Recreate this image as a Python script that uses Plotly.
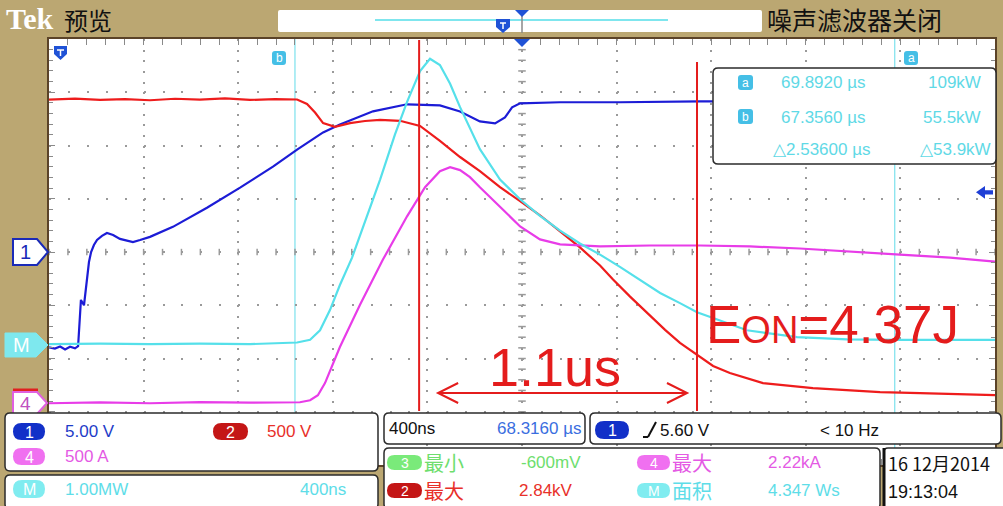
import plotly.graph_objects as go

W, H = 1003, 506

# ---------------- data ----------------
# Channel 1 : gate voltage  (V)
ch1_t = [66.316, 66.341, 66.363, 66.384, 66.405, 66.426, 66.439, 66.443, 66.451, 66.464,
         66.477, 66.485, 66.494, 66.506, 66.519, 66.540, 66.561, 66.587, 66.616, 66.646,
         66.671, 66.701, 66.743, 66.840, 66.984, 67.124, 67.263, 67.365, 67.475, 67.546,
         67.686, 67.830, 67.969, 68.054, 68.138, 68.202, 68.244, 68.274, 68.308, 68.477,
         68.730, 69.069, 69.491, 69.914, 70.316]
ch1_v = [-8.96, -9.06, -8.87, -9.15, -8.90, -9.05, -8.85, -7.40, -4.50, -5.00,
         -2.36, -0.94, 0.00, 0.66, 1.13, 1.51, 1.79, 1.60, 1.23, 1.04,
         0.94, 1.13, 1.42, 2.36, 4.15, 6.04, 8.02, 9.62, 11.23, 11.98,
         13.21, 13.87, 13.77, 13.20, 12.26, 12.08, 12.64, 13.58, 13.96, 14.06,
         14.06, 14.15, 14.15, 14.15, 14.15]

# Channel 2 : collector-emitter voltage (V)
ch2_t = [66.316, 66.426, 66.532, 66.637, 66.743, 66.849, 66.954, 67.060, 67.166, 67.272,
         67.365, 67.407, 67.441, 67.475, 67.525, 67.589, 67.652, 67.716, 67.800, 67.885,
         67.969, 68.054, 68.138, 68.223, 68.308, 68.392, 68.477, 68.561, 68.646, 68.701,
         68.773, 68.845, 68.921, 68.984, 69.056, 69.124, 69.195, 69.335, 69.546, 69.703,
         69.830, 69.999, 70.126, 70.316]
ch2_v = [2840, 2851, 2838, 2846, 2835, 2849, 2840, 2852, 2838, 2845,
         2842, 2800, 2720, 2620, 2585, 2620, 2640, 2650, 2642, 2594,
         2453, 2302, 2170, 2019, 1887, 1755, 1604, 1453, 1283, 1151,
         991, 840, 679, 557, 443, 340, 274, 179, 132, 110,
         94, 85, 80, 66]

# Channel 4 : collector current (A)
ch4_t = [66.316, 66.532, 66.743, 66.954, 67.166, 67.377, 67.420, 67.453, 67.483, 67.546,
         67.631, 67.728, 67.830, 67.906, 67.969, 68.012, 68.054, 68.096, 68.138, 68.223,
         68.308, 68.392, 68.477, 68.646, 68.857, 69.069, 69.280, 69.491, 69.745, 69.914,
         70.126, 70.316]
ch4_a = [0, 8, 0, 10, 5, 9, 28, 75, 189, 528,
         925, 1349, 1755, 2028, 2179, 2217, 2189, 2123, 2028, 1840,
         1660, 1538, 1491, 1472, 1481, 1481, 1472, 1453, 1415, 1396,
         1368, 1330]

# Math M : instantaneous power (MW)
math_t = [66.316, 66.532, 66.743, 66.954, 67.166, 67.365, 67.420, 67.462, 67.504, 67.546,
          67.597, 67.652, 67.716, 67.779, 67.830, 67.885, 67.927, 67.969, 68.012, 68.054,
          68.096, 68.138, 68.223, 68.308, 68.392, 68.477, 68.561, 68.646, 68.730, 68.815,
          68.900, 68.984, 69.056, 69.124, 69.267, 69.479, 69.690, 69.914, 70.126, 70.316]
math_mw = [0.02, 0.03, 0.02, 0.03, 0.02, 0.05, 0.10, 0.28, 0.66, 1.13,
           1.64, 2.32, 3.11, 3.96, 4.57, 5.15, 5.38, 5.26, 4.91, 4.47,
           4.06, 3.68, 3.11, 2.74, 2.43, 2.15, 1.91, 1.70, 1.47, 1.23,
           0.98, 0.79, 0.62, 0.51, 0.28, 0.15, 0.11, 0.10, 0.10, 0.10]

# scope settings
time_center_us = 68.316
time_per_div_us = 0.4
ch1_per_div, ch1_pos_div = 5.0, 0.0
ch2_per_div, ch2_pos_div = 500.0, -2.82
ch4_per_div, ch4_pos_div = 500.0, -2.84
math_per_div, math_pos_div = 1.0, -1.75
cursor_b_us, cursor_a_us = 67.356, 69.892
trigger_level_v = 5.60
marker_lines_us = [67.881, 69.056]

cursor_rows = [("a", "69.8920 µs", "109kW"), ("b", "67.3560 µs", "55.5kW"), ("", "△2.53600 µs", "△53.9kW")]

# ---------------- helpers ----------------
def px(x):
    return x / W

def py(y):
    return 1 - y / H

def pt(x, y):
    return f"{x / W:.5f},{1 - y / H:.5f}"

def rrect(x0, y0, x1, y1, r):
    return (f"M{pt(x0 + r, y0)} L{pt(x1 - r, y0)} Q{pt(x1, y0)} {pt(x1, y0 + r)} "
            f"L{pt(x1, y1 - r)} Q{pt(x1, y1)} {pt(x1 - r, y1)} L{pt(x0 + r, y1)} "
            f"Q{pt(x0, y1)} {pt(x0, y1 - r)} L{pt(x0, y0 + r)} Q{pt(x0, y0)} {pt(x0 + r, y0)} Z")

def poly(points):
    return "M" + " L".join(pt(x, y) for x, y in points) + " Z"

shapes = []
annotations = []

SANS = "Liberation Sans, Arial, sans-serif"
CJK = "Noto Sans CJK SC, sans-serif"

def add_path(path, fill="rgba(0,0,0,0)", line="rgba(0,0,0,0)", lw=0, layer="above"):
    shapes.append(dict(type="path", xref="paper", yref="paper", path=path,
                       fillcolor=fill, line=dict(color=line, width=lw), layer=layer))

def add_line(x0, y0, x1, y1, color, lw, layer="above"):
    shapes.append(dict(type="line", xref="paper", yref="paper", x0=px(x0), y0=py(y0),
                       x1=px(x1), y1=py(y1), line=dict(color=color, width=lw), layer=layer))

def add_text(x, y, s, color, size, anchor="left", family=SANS, yanchor="middle"):
    annotations.append(dict(x=px(x), y=py(y), xref="paper", yref="paper", text=s,
                            showarrow=False, xanchor=anchor, yanchor=yanchor,
                            font=dict(color=color, size=size, family=family), borderpad=0))

def pill(x0, y0, x1, y1, fill, label, tcolor="white", size=16):
    r = (y1 - y0) / 2
    add_path(rrect(x0, y0, x1, y1, r), fill=fill)
    add_text((x0 + x1) / 2, (y0 + y1) / 2 + 0.5, label, tcolor, size, anchor="center")

TAN = "#bba772"
BORDER = "#2b2b2b"

# ---------------- axes ranges ----------------
x0 = time_center_us - 5 * time_per_div_us
x1 = time_center_us + 5 * time_per_div_us

def yr(per_div, pos):
    return [(-4 - pos) * per_div, (4 - pos) * per_div]

XD = [49 / W, 995 / W]
YD = [1 - 465 / H, 1 - 39 / H]

fig = go.Figure()

fig.add_trace(go.Scatter(x=ch4_t, y=ch4_a, yaxis="y3", mode="lines",
                         line=dict(color="#e83ce8", width=2.2), hoverinfo="skip"))
fig.add_trace(go.Scatter(x=ch2_t, y=ch2_v, yaxis="y2", mode="lines",
                         line=dict(color="#ee1c1c", width=2.2), hoverinfo="skip"))
fig.add_trace(go.Scatter(x=math_t, y=math_mw, yaxis="y4", mode="lines",
                         line=dict(color="#55e0ea", width=2.2), hoverinfo="skip"))
fig.add_trace(go.Scatter(x=ch1_t, y=ch1_v, yaxis="y", mode="lines",
                         line=dict(color="#1c1cd6", width=2.2), hoverinfo="skip"))

# ---------------- graticule centre cross ticks ----------------
GRAY = "#9a9a9a"
step_t = time_per_div_us / 5
for k in range(51):
    t = x0 + k * step_t
    shapes.append(dict(type="line", xref="x", yref="y", x0=t, x1=t, y0=-0.3, y1=0.3,
                       line=dict(color=GRAY, width=1.5), layer="between"))
for k in range(-20, 21):
    v = k * ch1_per_div / 5
    shapes.append(dict(type="line", xref="x", yref="y", x0=time_center_us - 0.016,
                       x1=time_center_us + 0.016, y0=v, y1=v,
                       line=dict(color=GRAY, width=1.5), layer="between"))

# cursors
for c in (cursor_b_us, cursor_a_us):
    shapes.append(dict(type="line", xref="x", yref="paper", x0=c, x1=c, y0=YD[0], y1=YD[1],
                       line=dict(color="#86e4ee", width=1.3), layer="between"))

# ---------------- top bar ----------------
add_text(5, 18, "<b>Tek</b>", "white", 30, family="Liberation Serif, serif")
add_text(63, 19, "预览", "#111111", 24, family=CJK)
add_path(rrect(278, 10, 762, 32, 2), fill="white")
add_line(375, 20, 668, 20, "#7fe6ee", 2)
add_path(poly([(496, 19), (510, 19), (510, 27), (503, 33), (496, 27)]), fill="#1f52d6")
add_line(500, 23, 506, 23, "white", 1.5)
add_line(503, 23, 503, 29, "white", 1.5)
add_line(522, 12, 522, 33, "#888888", 1.5)
add_path(poly([(515, 10), (529, 10), (522, 17)]), fill="#1f52d6")
add_text(766, 19, "噪声滤波器关闭", "#111111", 25, family=CJK)

# trigger position marker inside graticule
add_path(poly([(514, 39), (530, 39), (522, 47)]), fill="#1f52d6")
# trigger level arrow on the right (ch1 level)
shapes.append(dict(type="path", xref="paper", yref="y",
                   path=f"M{px(976):.5f},{trigger_level_v} L{px(985):.5f},{trigger_level_v + 0.6} "
                        f"L{px(985):.5f},{trigger_level_v + 0.2} L{px(993):.5f},{trigger_level_v + 0.2} "
                        f"L{px(993):.5f},{trigger_level_v - 0.2} L{px(985):.5f},{trigger_level_v - 0.2} "
                        f"L{px(985):.5f},{trigger_level_v - 0.6} Z",
                   fillcolor="#1f3fd6", line=dict(width=0), layer="above"))

# small icons at graticule top
add_path(poly([(54, 46), (67, 46), (67, 54), (60.5, 60), (54, 54)]), fill="#1f52d6")
add_line(57, 50, 64, 50, "white", 1.5)
add_line(60.5, 50, 60.5, 56, "white", 1.5)
for (cx, lab) in ((279, "b"), (911, "a")):
    add_path(rrect(cx - 7, 51, cx + 7, 65, 3), fill="#45bfe6")
    add_text(cx, 58, lab, "white", 12, anchor="center")

# ---------------- left channel markers ----------------
add_path(poly([(13, 239), (37, 239), (48, 252), (37, 265), (13, 265)]), fill="white",
         line="#1a2ab8", lw=2)
add_text(25, 252, "1", "#1a2ab8", 20, anchor="center")
add_path(poly([(5, 333), (36, 333), (48, 345), (36, 357), (5, 357)]), fill="#7ee8ee",
         line="#7ee8ee", lw=1)
add_text(21, 345, "M", "white", 20, anchor="center")
add_line(13, 390, 38, 390, "#e02020", 3)
add_path(poly([(13, 392), (37, 392), (47, 403), (37, 414), (13, 414)]), fill="white",
         line="#e060e0", lw=2)
add_text(25, 403, "4", "#c050c0", 19, anchor="center")

# ---------------- cursor readout box ----------------
add_path(rrect(713, 68, 996, 164, 5), fill="white", line=BORDER, lw=1.5)
CYAN_T = "#5fd9e6"
for i, (lab, tval, pval) in enumerate(cursor_rows):
    yy = [83, 117, 149][i]
    if lab:
        add_path(rrect(738, yy - 8, 753, yy + 7, 3), fill="#45bfe6")
        add_text(745.5, yy, lab, "white", 12, anchor="center")
    add_text(780 if lab else 772, yy, tval, CYAN_T, 17)
    add_text(982 if lab else 992, yy, pval, CYAN_T, 17, anchor="right")

# ---------------- bottom readout panels ----------------
add_path(rrect(5, 413, 378, 471, 5), fill="white", line=BORDER, lw=1.5)
add_path(rrect(5, 475, 378, 509, 5), fill="white", line=BORDER, lw=1.5)
add_path(rrect(384, 413, 585, 444, 5), fill="white", line=BORDER, lw=1.5)
add_path(rrect(590, 413, 1001, 444, 5), fill="white", line=BORDER, lw=1.5)
add_path(rrect(384, 448, 880, 509, 5), fill="white", line=BORDER, lw=1.5)
add_path(rrect(884, 448, 1006, 509, 4), fill="white", line=BORDER, lw=1.5)
add_line(884, 448, 884, 506, "#111111", 3)

BLUE_P, RED_P, PINK_P, CYAN_P, GREEN_P = "#1230c8", "#c41616", "#f070f0", "#80ecf0", "#7aea7a"
BLUE_T, RED_T, PINK_T, CYAN_T2, GREEN_T = "#1e3cc8", "#e8302a", "#e45ae4", "#5edde8", "#6ede6e"

pill(13, 423, 45, 440, BLUE_P, "1")
add_text(64, 431, "5.00 V", BLUE_T, 17)
pill(213, 423, 248, 440, RED_P, "2")
add_text(266, 431, "500 V", RED_T, 17)
pill(13, 448, 45, 465, PINK_P, "4")
add_text(64, 456, "500 A", PINK_T, 17)
pill(13, 480, 45, 498, CYAN_P, "M")
add_text(64, 489, "1.00MW", CYAN_T2, 17)
add_text(347, 489, "400ns", CYAN_T2, 17, anchor="right")

add_text(388, 428, "400ns", "#111111", 17)
add_text(582, 428, "68.3160 µs", "#3a6ee0", 17, anchor="right")

pill(595, 421, 629, 439, BLUE_P, "1")
add_line(643, 437, 648, 437, "#111111", 2)
add_line(648, 437, 656, 422, "#111111", 2)
add_text(659, 430, "5.60 V", "#111111", 17)
add_text(880, 430, "< 10 Hz", "#111111", 17, anchor="right")

R1, R2 = 462, 490
pill(387, R1 - 7, 422, R1 + 8, GREEN_P, "3", size=14)
add_text(423, R1, "最小", GREEN_T, 20, family=CJK)
add_text(520, R1, "-600mV", GREEN_T, 17)
pill(637, R1 - 7, 670, R1 + 8, PINK_P, "4", size=14)
add_text(671, R1, "最大", PINK_T, 20, family=CJK)
add_text(767, R1, "2.22kA", PINK_T, 17)
pill(387, R2 - 7, 422, R2 + 8, RED_P, "2", size=14)
add_text(423, R2, "最大", RED_T, 20, family=CJK)
add_text(518, R2, "2.84kV", RED_T, 17)
pill(637, R2 - 7, 670, R2 + 8, CYAN_P, "M", size=14)
add_text(671, R2, "面积", CYAN_T2, 20, family=CJK)
add_text(767, R2, "4.347 Ws", CYAN_T2, 17)

add_text(887, 463, "16 12月2014", "#111111", 18, family=CJK)
add_text(887, 492, "19:13:04", "#111111", 18)

# ---------------- hand-drawn red annotations ----------------
RED_A = "#e41c1c"
shapes.append(dict(type="line", xref="x", yref="paper", x0=marker_lines_us[0], x1=marker_lines_us[0],
                   y0=py(411), y1=py(40), line=dict(color=RED_A, width=2), layer="above"))
shapes.append(dict(type="line", xref="x", yref="paper", x0=marker_lines_us[1], x1=marker_lines_us[1],
                   y0=py(411), y1=py(62), line=dict(color=RED_A, width=2), layer="above"))
la = marker_lines_us[0] + 0.080
ra = marker_lines_us[1] - 0.042
arm = 0.085
ay = py(393)
ady = 10 / H
shapes.append(dict(type="path", xref="x", yref="paper",
                   path=f"M{la + arm},{ay + ady} L{la},{ay} L{la + arm},{ay - ady} M{la},{ay} L{ra},{ay} "
                        f"M{ra - arm},{ay + ady} L{ra},{ay} L{ra - arm},{ay - ady}",
                   line=dict(color=RED_A, width=2), layer="above"))
annotations.append(dict(x=(marker_lines_us[0] + marker_lines_us[1]) / 2 - 0.012, y=py(367),
                        xref="x", yref="paper", text="1.1us", showarrow=False,
                        xanchor="center", yanchor="middle",
                        font=dict(color=RED_A, size=54, family=SANS)))
annotations.append(dict(x=px(704), y=py(324), xref="paper", yref="paper",
                        text='E<span style="font-size:38px">ON</span>=4.37J', showarrow=False,
                        xanchor="left", yanchor="middle",
                        font=dict(color=RED_A, size=53, family=SANS)))

# ---------------- layout ----------------
fig.update_layout(
    width=W, height=H, autosize=False,
    margin=dict(l=0, r=0, t=0, b=0, pad=0),
    paper_bgcolor=TAN, plot_bgcolor="white",
    showlegend=False,
    xaxis=dict(domain=XD, range=[x0, x1], showgrid=True, gridcolor=GRAY, gridwidth=2,
               griddash="2px,8.65px", dtick=time_per_div_us, tick0=x0,
               ticks="inside", ticklen=6, tickcolor="#8a8a8a", showticklabels=False,
               showline=True, linecolor="#5b4328", linewidth=2, mirror="allticks",
               zeroline=False, fixedrange=True,
               minor=dict(dtick=step_t, tick0=x0, ticks="inside", ticklen=4,
                          tickcolor="#8a8a8a", showgrid=False)),
    yaxis=dict(domain=YD, range=yr(ch1_per_div, ch1_pos_div), showgrid=True, gridcolor=GRAY,
               gridwidth=2, griddash="2px,16.92px", dtick=ch1_per_div, tick0=0,
               ticks="inside", ticklen=6, tickcolor="#8a8a8a", showticklabels=False,
               showline=True, linecolor="#5b4328", linewidth=2, mirror="allticks",
               zeroline=False, fixedrange=True,
               minor=dict(dtick=ch1_per_div / 5, tick0=0, ticks="inside", ticklen=4,
                          tickcolor="#8a8a8a", showgrid=False)),
    yaxis2=dict(overlaying="y", anchor="x", range=yr(ch2_per_div, ch2_pos_div), visible=False),
    yaxis3=dict(overlaying="y", anchor="x", range=yr(ch4_per_div, ch4_pos_div), visible=False),
    yaxis4=dict(overlaying="y", anchor="x", range=yr(math_per_div, math_pos_div), visible=False),
    shapes=shapes,
    annotations=annotations,
)

fig.write_html("out.html", config={"displayModeBar": False})
